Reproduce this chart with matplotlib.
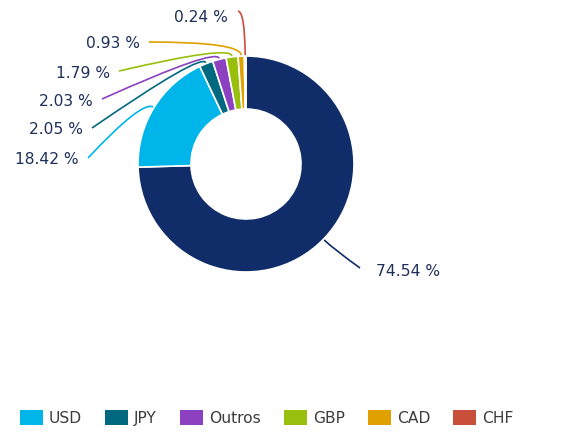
import matplotlib.pyplot as plt
import numpy as np
from matplotlib.patches import Patch, PathPatch
from matplotlib.path import Path

# slice data (clockwise from top)
currencies = ['EUR', 'USD', 'JPY', 'Outros', 'GBP', 'CAD', 'CHF']
shares = [74.54, 18.42, 2.05, 2.03, 1.79, 0.93, 0.24]
labels = ['74.54 %', '18.42 %', '2.05 %', '2.03 %', '1.79 %', '0.93 %', '0.24 %']
colors = ['#112d69', '#00b5ea', '#006980', '#8b41c0', '#98bf0c', '#e0a000', '#c8503b']
legend_names = currencies[1:]

W, H = 580, 434
cx, cy = 246, H - 164
R, hole = 108, 55

# label anchor points (end of leader line, pixel coords) and control distance
anchors = [(360, 268), (88, 158), (92, 128), (102, 99), (119, 71), (149, 42), (238, 11)]
ctrl = [14, 14, 12, 12, 12, 14, 44]

fig = plt.figure(figsize=(5.8, 4.34), dpi=100)
ax = fig.add_axes([0, 0, 1, 1])

ax.pie(shares, colors=colors, startangle=90, counterclock=False,
       center=(cx, cy), radius=R,
       wedgeprops=dict(width=R - hole, edgecolor='white', linewidth=1.2))

ax.set_xlim(0, W)
ax.set_ylim(0, H)
ax.set_aspect('equal')
ax.axis('off')

text_color = '#1e2f5c'
frac = np.cumsum(shares) / sum(shares)
mids = frac - np.array(shares) / sum(shares) / 2
for i, m in enumerate(mids):
    th = np.deg2rad(90 - 360 * m)
    d = np.array([np.cos(th), np.sin(th)])
    wpt = np.array([cx, cy]) + (R + 1) * d
    cpt = np.array([cx, cy]) + (R + ctrl[i]) * d
    ax_, ay_ = anchors[i]
    apt = np.array([ax_, H - ay_])
    path = Path([apt, cpt, wpt], [Path.MOVETO, Path.CURVE3, Path.CURVE3])
    ax.add_patch(PathPatch(path, fill=False, edgecolor=colors[i], lw=1.2))
    if i == 0:
        ax.text(apt[0] + 16, apt[1] - 4, labels[i], ha='left', va='center',
                fontsize=11.2, color=text_color)
    elif i == len(shares) - 1:
        ax.text(apt[0] - 10, apt[1] - 6, labels[i], ha='right', va='center',
                fontsize=11.2, color=text_color)
    else:
        ax.text(apt[0] - 9, apt[1] - 2, labels[i], ha='right', va='center',
                fontsize=11.2, color=text_color)

handles = [Patch(facecolor=c, edgecolor='none') for c in colors[1:]]
leg = fig.legend(handles, legend_names, loc='center', ncol=6,
                 bbox_to_anchor=(0.46, 0.036), frameon=False, fontsize=11.2,
                 handlelength=1.45, handleheight=1.1, handletextpad=0.4,
                 columnspacing=1.5)
for t in leg.get_texts():
    t.set_color('#3d3d3d')

fig.savefig('out.png', dpi=100)
